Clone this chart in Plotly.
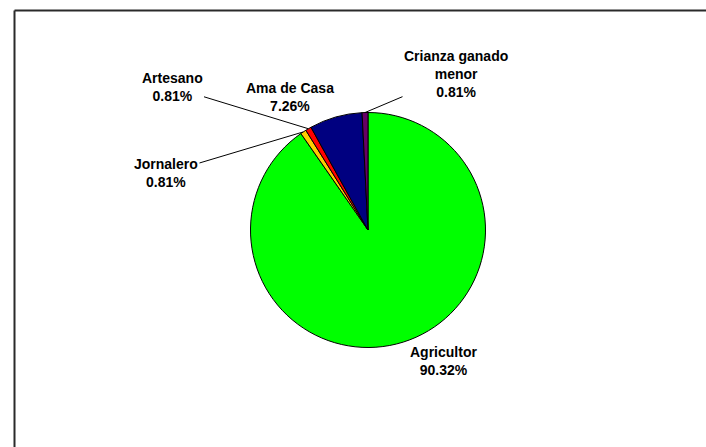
import math
import plotly.graph_objects as go

# Data (counts; shares read as 90.32%, 0.81%, 0.81%, 7.26%, 0.81%)
labels = ["Agricultor", "Jornalero", "Artesano", "Ama de Casa", "Crianza ganado menor"]
counts = [112, 1, 1, 9, 1]
colors = ["#00FF00", "#FFCC00", "#FF0000", "#000080", "#660066"]

W, H = 706, 447
CX, CY, R = 368, 230, 117.5  # pie centre and radius in pixels

# label text centres (pixels) and whether to draw a leader line
label_pos = {
    "Agricultor": (443, 361, False),
    "Jornalero": (166, 173, True),
    "Artesano": (172, 87, True),
    "Ama de Casa": (290, 97, False),
    "Crianza ganado menor": (456, 74, True),
}

fig = go.Figure()
fig.add_trace(go.Pie(
    labels=labels,
    values=counts,
    sort=False,
    direction="clockwise",
    rotation=0,
    marker=dict(colors=colors, line=dict(color="#000000", width=1)),
    textinfo="none",
    hoverinfo="label+percent",
    showlegend=False,
    domain=dict(x=[(CX - R) / W, (CX + R) / W],
                y=[1 - (CY + R) / H, 1 - (CY - R) / H]),
))

total = sum(counts)
cum = 0
annotations = []
for lab, v in zip(labels, counts):
    mid = (cum + v / 2) / total
    cum += v
    theta = 2 * math.pi * mid
    hx = CX + R * math.sin(theta)
    hy = CY - R * math.cos(theta)
    tx, ty, arrow = label_pos[lab]
    txt = lab.replace("ganado menor", "ganado<br>menor") + f"<br>{v / total * 100:.2f}%"
    font = dict(family="Liberation Sans, Arial, sans-serif", size=14, color="#000000")
    if arrow:
        annotations.append(dict(
            x=hx / W, y=1 - hy / H, xref="paper", yref="paper",
            ax=tx - hx, ay=ty - hy, axref="pixel", ayref="pixel",
            text=f"<b>{txt}</b>", showarrow=True, arrowhead=0,
            arrowwidth=1, arrowcolor="#000000", standoff=0,
            font=font, align="center",
        ))
    else:
        annotations.append(dict(
            x=tx / W, y=1 - ty / H, xref="paper", yref="paper",
            xanchor="center", yanchor="middle",
            text=f"<b>{txt}</b>", showarrow=False,
            font=font, align="center",
        ))

shapes = [
    dict(type="line", xref="paper", yref="paper",
         x0=14.5 / W, x1=1.05, y0=1 - 10.5 / H, y1=1 - 10.5 / H,
         line=dict(color="#2a2a2a", width=2)),
    dict(type="line", xref="paper", yref="paper",
         x0=14.5 / W, x1=14.5 / W, y0=1 - 10.5 / H, y1=-0.05,
         line=dict(color="#2a2a2a", width=2)),
]

fig.update_layout(
    width=W, height=H,
    margin=dict(l=0, r=0, t=0, b=0),
    paper_bgcolor="#ffffff",
    plot_bgcolor="#ffffff",
    annotations=annotations,
    shapes=shapes,
)

fig.write_html(
    "out.html",
    config={"displayModeBar": False},
    post_script="document.body.style.margin='0';document.body.style.overflow='hidden';",
)
